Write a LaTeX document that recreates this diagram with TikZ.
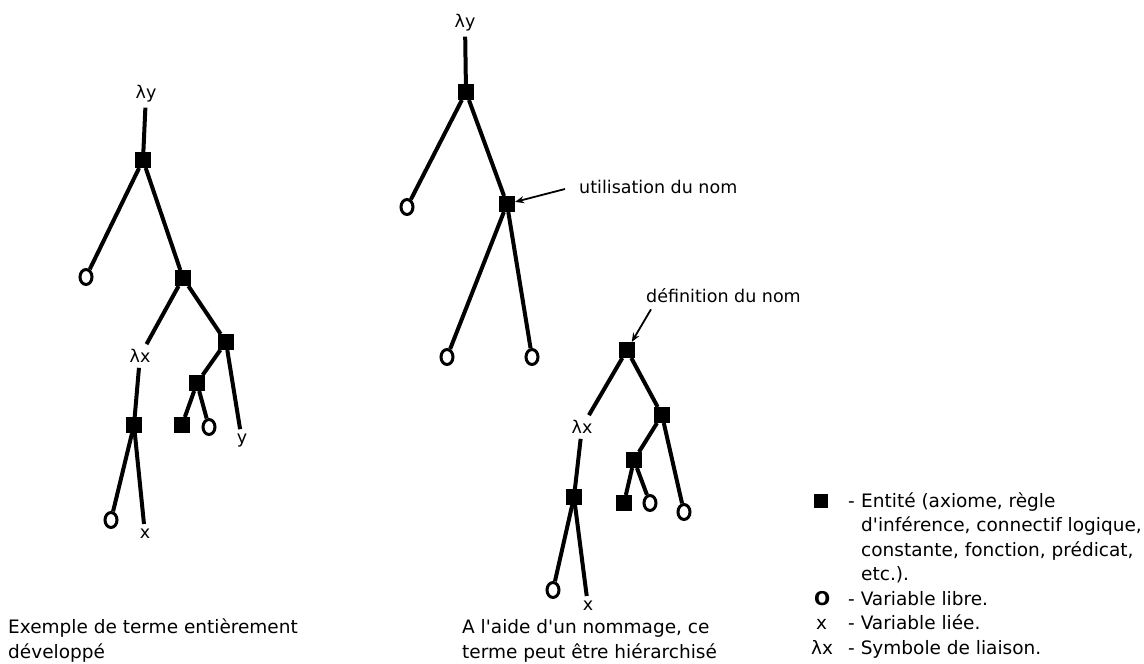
\documentclass[tikz,border=0pt]{standalone}
\usepackage{fontspec}
\setmainfont{DejaVu Sans}
\usetikzlibrary{shapes.geometric,arrows.meta}
\newcommand{\apos}{\textquotesingle}
\begin{document}
\begin{tikzpicture}[x=1pt,y=-1pt,
  ent/.style={fill=black,draw=none,minimum size=16pt,inner sep=0pt,outer sep=0pt},
  var/.style={ellipse,draw=black,line width=3pt,minimum width=12pt,minimum height=15pt,inner sep=0pt},
  lbl/.style={font=\fontsize{17.5}{20}\selectfont,inner sep=5pt},
  edge/.style={line width=4pt},
  ptr/.style={line width=1.8pt,-{Stealth[length=9pt,width=7pt]}},
  txt/.style={font=\fontsize{18.5}{24.5}\selectfont,align=left,inner sep=0pt,anchor=base west}
]
\useasboundingbox (0,0) rectangle (1144,664);

% ---------- fully expanded term ----------
\node[lbl] (L-ly) at (146,94) {λy};
\node[ent] (L-a) at (143,160) {};
\node[var] (L-v1) at (86,277) {};
\node[ent] (L-b) at (183,278) {};
\node[lbl] (L-lx) at (140,356) {λx};
\node[ent] (L-c) at (226,342) {};
\node[ent] (L-d) at (134,425) {};
\node[ent] (L-e) at (197,383) {};
\node[ent] (L-f) at (182,425) {};
\node[var] (L-v2) at (209,427) {};
\node[lbl] (L-y) at (242,441) {y};
\node[var] (L-v3) at (111,520) {};
\node[lbl] (L-x) at (145,534) {x};

\draw[edge] (L-ly) -- (L-a);
\draw[edge] (L-a) -- (L-v1);
\draw[edge] (L-a) -- (L-b);
\draw[edge] (L-b) -- (L-lx);
\draw[edge] (L-b) -- (L-c);
\draw[edge] (L-lx) -- (L-d);
\draw[edge] (L-c) -- (L-e);
\draw[edge] (L-c) -- (L-y);
\draw[edge] (L-e) -- (L-f);
\draw[edge] (L-e) -- (L-v2);
\draw[edge] (L-d) -- (L-v3);
\draw[edge] (L-d) -- (L-x);

% ---------- term using the name ----------
\node[lbl] (M-ly) at (465,23) {λy};
\node[ent] (M-a) at (466,92) {};
\node[var] (M-v1) at (407,207) {};
\node[ent] (M-b) at (507,204) {};
\node[var] (M-v2) at (447,357) {};
\node[var] (M-v3) at (532,357) {};
\node[lbl,anchor=west,inner sep=2pt] (M-use) at (577,187) {utilisation du nom};

\draw[edge] (M-ly) -- (M-a);
\draw[edge] (M-a) -- (M-v1);
\draw[edge] (M-a) -- (M-b);
\draw[edge] (M-b) -- (M-v2);
\draw[edge] (M-b) -- (M-v3);
\draw[ptr] (M-use.west) ++(-12,2) coordinate (M-tail) (M-tail) -- (M-b);

% ---------- definition of the name ----------
\node[lbl,anchor=west,inner sep=2pt] (R-def) at (644,296) {définition du nom};
\node[ent] (R-a) at (627,350) {};
\node[lbl] (R-lx) at (582,427) {λx};
\node[ent] (R-b) at (662,415) {};
\node[ent] (R-c) at (574,497) {};
\node[ent] (R-d) at (634,460) {};
\node[ent] (R-e) at (624,503) {};
\node[var] (R-v1) at (650,503) {};
\node[var] (R-v2) at (684,512) {};
\node[var] (R-v3) at (553,590) {};
\node[lbl] (R-x) at (588,606) {x};

\draw[edge] (R-a) -- (R-lx);
\draw[edge] (R-a) -- (R-b);
\draw[edge] (R-lx) -- (R-c);
\draw[edge] (R-b) -- (R-d);
\draw[edge] (R-b) -- (R-v2);
\draw[edge] (R-d) -- (R-e);
\draw[edge] (R-d) -- (R-v1);
\draw[edge] (R-c) -- (R-v3);
\draw[edge] (R-c) -- (R-x);
\draw[ptr] (R-def.south west) ++(7,4) coordinate (R-tail) (R-tail) -- (R-a);

% ---------- captions (base anchor sits on the last line) ----------
\node[txt] (cap1) at (8,658) {Exemple de terme entièrement\\développé};
\node[txt] (cap2) at (462,658) {A l\apos aide d\apos un nommage, ce\\terme peut être hiérarchisé};

% ---------- legend ----------
\node[ent,minimum size=14pt] (key-ent) at (821,501) {};
\node[txt] (dash1) at (848,507) {-};
\node[txt] (key-ent-t) at (861,580.5) {Entité (axiome, règle\\d\apos inférence, connectif logique,\\constante, fonction, prédicat,\\etc.).};
\node[txt,font=\fontsize{19}{22}\selectfont\bfseries] (key-var) at (814,605) {O};
\node[txt] (key-var-t) at (848,605) {- Variable libre.};
\node[txt] (key-x) at (816,629.5) {x};
\node[txt] (key-x-t) at (848,629.5) {- Variable liée.};
\node[txt] (key-lx) at (811,654) {λx};
\node[txt] (key-lx-t) at (848,654) {- Symbole de liaison.};
\end{tikzpicture}
\end{document}
